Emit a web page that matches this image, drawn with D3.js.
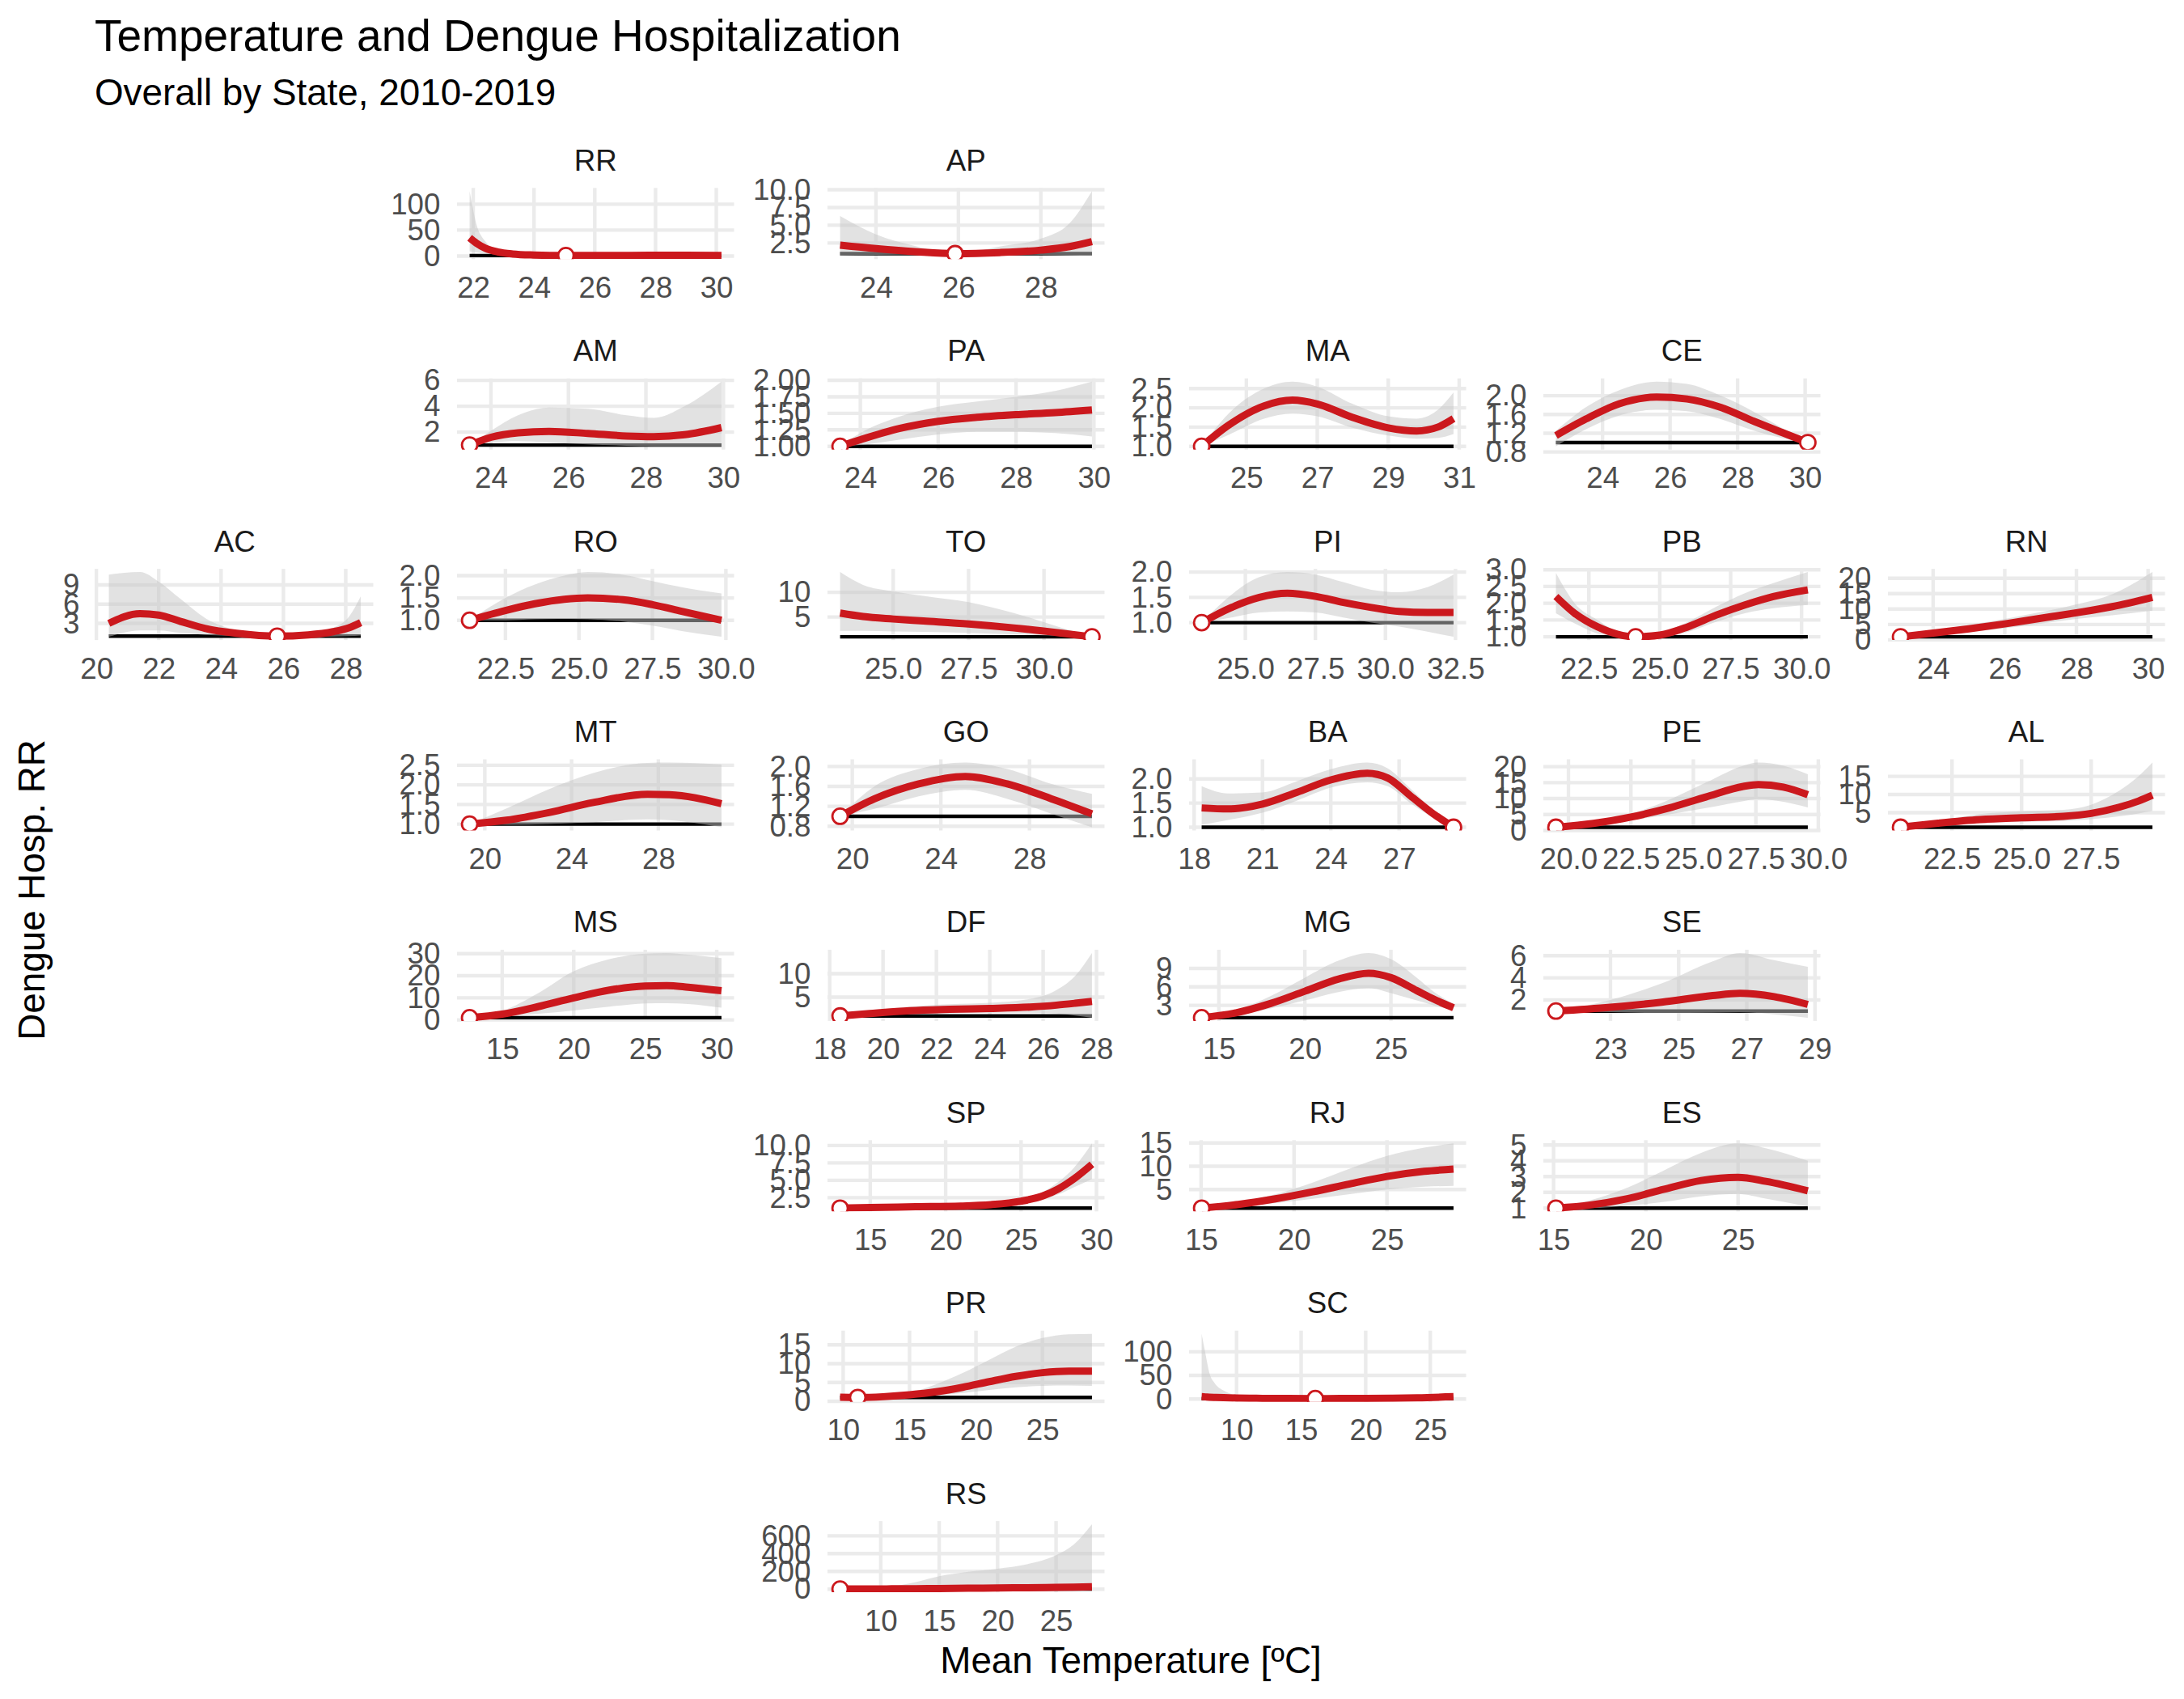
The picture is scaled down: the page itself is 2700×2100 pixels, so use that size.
<!DOCTYPE html>
<html><head><meta charset="utf-8">
<script src="https://cdn.jsdelivr.net/npm/d3@7"></script>
<style>
body{margin:0;background:#fff}
svg{display:block}
text{font-family:"Liberation Sans",Arial,Helvetica,sans-serif}
</style>
</head><body>
<svg id="chart" width="2700" height="2100"></svg>
<script>
// ---------------- DATA ----------------
const states = ["RR","AP","AM","PA","MA","CE","AC","RO","TO","PI","PB","RN","MT","GO","BA","PE","AL","MS","DF","MG","SE","SP","RJ","ES","PR","SC","RS"];
// geofacet grid cell (row, column) of every state
const gridRow = [1,1,2,2,2,2,3,3,3,3,3,3,4,4,4,4,4,5,5,5,5,6,6,6,7,7,8];
const gridCol = [2,3,2,3,4,5,1,2,3,4,5,6,2,3,4,5,6,2,3,4,5,3,4,5,3,4,3];
// minimum-morbidity temperature (reference point, RR = 1)
const mmt = [25.05,25.92,23.45,23.48,23.74,30.08,25.8,21.28,31.59,23.44,24.15,23.09,19.3,19.45,29.39,19.5,20.65,12.72,18.39,14.0,21.4,13.0,15.03,15.13,11.1,16.1,6.52];

const temps = [
 [21.88,22.1,22.4,22.8,23.3,24.0,25.05,26.5,28.0,29.0,30.17],
 [23.13,24.0,25.0,25.92,27.0,28.0,28.7,29.24],
 [23.45,24.0,24.7,25.5,26.5,27.5,28.2,29.0,29.95],
 [23.48,24.0,25.0,26.0,27.0,28.0,29.0,29.95],
 [23.74,24.5,25.5,26.3,27.0,28.0,29.0,29.8,30.4,30.84],
 [22.62,23.5,24.5,25.6,26.5,27.5,28.5,29.3,30.08],
 [20.4,21.4,22.0,22.7,23.5,24.5,25.8,26.8,27.6,28.1,28.48],
 [21.28,22.5,23.5,24.5,25.3,26.5,27.5,28.5,29.85],
 [23.24,24.0,25.0,26.0,27.5,29.0,30.5,31.59],
 [23.44,24.5,25.5,26.5,27.5,28.5,29.5,30.5,31.5,32.43],
 [21.34,22.0,22.8,23.5,24.15,25.0,26.0,27.0,28.0,29.0,30.22],
 [23.09,24.0,25.0,26.0,27.0,28.0,29.0,30.12],
 [19.3,21.0,23.0,25.0,27.5,28.5,30.91],
 [19.45,21.0,23.0,25.1,27.0,29.0,30.82],
 [18.33,19.5,21.0,22.5,24.0,25.6,26.5,27.5,28.5,29.39],
 [19.5,21.0,22.5,24.0,25.5,27.0,27.6,28.6,29.58],
 [20.65,22.0,23.5,25.0,26.5,27.5,28.5,29.2,29.7],
 [12.72,15.0,17.5,20.0,22.5,25.0,26.5,28.0,30.33],
 [18.39,19.5,21.0,22.5,24.0,25.5,26.5,27.2,27.83],
 [14.0,16.0,18.0,20.0,22.0,23.7,25.0,26.5,27.5,28.64],
 [21.4,23.0,24.5,26.0,26.8,27.8,28.79],
 [13.0,15.0,18.0,21.0,23.0,25.0,26.5,27.5,28.5,29.7],
 [15.03,17.0,19.0,21.0,23.0,25.0,27.0,28.58],
 [15.13,17.0,19.0,21.0,23.0,25.0,26.5,28.78],
 [9.77,11.1,13.0,15.0,17.0,19.0,21.0,23.0,25.0,27.0,28.73],
 [7.3,7.6,7.9,8.3,9.0,10.0,11.0,12.0,14.0,16.1,18.0,20.0,22.0,24.0,26.8],
 [6.52,9.0,10.5,11.5,13.0,15.0,17.5,20.0,22.5,25.0,26.5,28.07]
];
const rrFit = [
 [35,25,15,8,4,2,1.0,1.1,1.6,1.5,1.0],
 [2.2,1.7,1.25,1.0,1.15,1.5,2.0,2.7],
 [1.0,1.6,1.95,2.05,1.9,1.7,1.65,1.8,2.35],
 [1.0,1.1,1.27,1.38,1.44,1.48,1.51,1.55],
 [1.0,1.55,2.05,2.2,2.1,1.75,1.48,1.4,1.5,1.72],
 [1.15,1.5,1.83,1.97,1.93,1.75,1.45,1.22,1.0],
 [3.0,4.5,4.3,3.3,2.2,1.45,1.0,1.2,1.7,2.3,3.1],
 [1.0,1.22,1.37,1.47,1.5,1.46,1.35,1.2,1.0],
 [5.8,5.1,4.6,4.2,3.6,2.8,1.8,1.0],
 [1.0,1.3,1.5,1.58,1.52,1.4,1.3,1.22,1.2,1.2],
 [2.2,1.7,1.3,1.08,1.0,1.05,1.3,1.65,1.95,2.2,2.4],
 [1.0,2.2,3.6,5.2,7.0,8.8,10.8,13.8],
 [1.0,1.1,1.3,1.55,1.76,1.75,1.52],
 [1.0,1.35,1.65,1.8,1.65,1.35,1.05],
 [1.4,1.38,1.48,1.72,1.98,2.12,2.02,1.65,1.28,1.0],
 [1.0,2.2,4.2,7.0,10.5,13.8,14.4,13.6,11.2],
 [1.0,2.1,3.1,3.6,4.0,4.8,6.5,8.2,9.8],
 [1.0,2.6,6.0,10.0,13.5,15.3,15.5,14.8,13.2],
 [1.0,1.5,2.1,2.4,2.6,2.9,3.3,3.7,4.1],
 [1.0,1.8,3.3,5.3,7.3,8.2,7.5,5.4,4.0,2.6],
 [1.0,1.35,1.8,2.4,2.6,2.3,1.6],
 [1.0,1.1,1.2,1.3,1.5,2.0,2.8,3.8,5.2,7.3],
 [1.0,1.8,3.0,4.5,6.2,7.8,8.9,9.4],
 [1.0,1.2,1.6,2.2,2.75,2.95,2.7,2.1],
 [1.05,1.0,1.2,1.7,2.5,3.7,5.2,6.6,7.6,8.0,8.0],
 [5.0,4.5,4.0,3.5,2.8,2.2,1.8,1.5,1.1,1.0,1.1,1.3,1.7,2.5,5.0],
 [1.0,2.0,3.0,3.5,5.0,7.0,10.0,13.0,16.0,20.0,23.0,28.0]
];
const rrLow = [
 [9,7,5,3,1.8,1.2,1.0,0.7,0.7,0.6,0.3],
 [0.75,0.82,0.92,1.0,0.9,0.82,0.75,0.68],
 [1.0,1.2,1.3,1.2,1.05,0.95,0.9,0.9,0.9],
 [1.0,1.02,1.1,1.18,1.22,1.22,1.2,1.15],
 [1.0,1.3,1.72,1.85,1.78,1.48,1.28,1.2,1.22,1.32],
 [0.92,1.28,1.58,1.7,1.67,1.5,1.25,1.1,1.0],
 [0.9,1.9,1.9,1.5,1.2,1.05,1.0,0.95,0.95,1.0,1.1],
 [1.0,1.0,1.02,1.03,1.02,0.97,0.88,0.76,0.63],
 [2.2,2.2,2.1,2.0,1.8,1.5,1.2,1.0],
 [1.0,1.1,1.2,1.22,1.2,1.1,1.0,0.92,0.82,0.72],
 [1.7,1.4,1.1,1.02,1.0,1.0,1.15,1.45,1.7,1.85,1.95],
 [1.0,1.7,2.6,3.8,5.3,6.8,8.0,9.5],
 [1.0,0.98,1.0,1.05,1.12,1.1,0.92],
 [1.0,1.15,1.4,1.53,1.35,1.05,0.78],
 [1.05,1.15,1.3,1.55,1.82,1.93,1.85,1.5,1.2,1.0],
 [1.0,1.8,3.2,5.0,7.0,9.2,9.8,9.0,7.2],
 [1.0,1.6,2.2,2.5,2.7,3.2,4.0,4.8,5.5],
 [1.0,1.6,2.8,4.3,6.0,7.5,7.6,7.2,5.5],
 [1.0,1.1,1.4,1.6,1.7,1.7,1.5,1.1,0.63],
 [1.0,1.5,2.5,3.8,5.2,5.8,5.0,3.8,3.0,2.2],
 [1.0,0.9,0.82,0.85,0.88,0.7,0.4],
 [1.0,1.05,1.1,1.15,1.3,1.7,2.3,3.0,4.0,5.2],
 [1.0,1.4,2.1,3.0,4.0,5.0,5.6,5.8],
 [1.0,1.0,1.15,1.4,1.75,1.9,1.6,1.1],
 [0.7,1.0,1.05,1.25,1.6,2.2,3.0,3.7,4.1,4.2,4.1],
 [1.2,1.2,1.2,1.15,1.1,1.05,1.0,1.0,1.0,1.0,0.95,0.95,1.0,1.2,2.5],
 [1.0,1.0,1.0,1.0,1.1,1.2,1.5,2.0,2.3,2.6,2.9,3.2]
];
const rrHigh = [
 [125,62,28,12,5.5,2.8,1.0,1.8,3.2,3.5,4.0],
 [6.3,3.7,2.0,1.0,2.0,3.1,5.3,9.8],
 [1.0,2.1,3.3,3.9,3.8,3.3,3.1,4.0,5.9],
 [1.0,1.2,1.45,1.6,1.68,1.75,1.84,1.98],
 [1.0,1.85,2.5,2.68,2.55,2.1,1.78,1.72,1.95,2.4],
 [1.25,1.75,2.12,2.3,2.25,2.0,1.65,1.32,1.0],
 [10.6,11.0,9.5,6.8,3.8,1.9,1.0,1.4,2.3,4.0,7.2],
 [1.0,1.5,1.8,2.0,2.08,2.02,1.88,1.74,1.6],
 [14.1,11.5,10.2,9.3,8.0,5.8,3.0,1.0],
 [1.0,1.55,1.9,2.0,1.95,1.8,1.65,1.6,1.7,1.95],
 [2.9,2.0,1.5,1.15,1.0,1.1,1.45,1.9,2.3,2.6,2.93],
 [1.0,2.8,4.8,6.8,9.0,11.5,14.8,22.0],
 [1.0,1.4,1.9,2.3,2.56,2.57,2.52],
 [1.0,1.6,1.95,2.08,1.95,1.65,1.45],
 [1.85,1.7,1.72,1.95,2.2,2.34,2.22,1.8,1.35,1.0],
 [1.0,2.6,5.2,9.5,15.0,20.3,21.3,20.3,17.6],
 [1.0,2.8,4.6,5.4,5.8,7.2,11.0,15.0,18.8],
 [1.0,4.0,12.0,22.0,27.5,30.0,30.3,29.5,28.0],
 [1.0,2.0,3.0,3.5,3.8,4.6,6.5,9.5,14.4],
 [1.0,2.2,4.5,7.5,10.3,11.5,10.5,7.5,5.2,3.2],
 [1.0,2.0,3.5,5.5,6.25,5.6,5.0],
 [1.0,1.15,1.3,1.45,1.7,2.3,3.4,4.8,6.8,10.3],
 [1.0,2.2,4.0,6.5,9.5,12.2,14.0,14.9],
 [1.0,1.5,2.3,3.4,4.5,5.1,4.8,4.0],
 [1.2,1.0,1.4,2.3,4.5,7.5,11.0,14.5,16.8,17.8,17.9],
 [138,95,55,34,18,8,4,2.5,1.4,1.0,1.3,2.0,3.0,4.5,9.0],
 [1.0,8,22,40,80,145,195,230,280,382,500,730]
];
const xTickLabels = [
 ["22","24","26","28","30"],["24","26","28"],["24","26","28","30"],["24","26","28","30"],
 ["25","27","29","31"],["24","26","28","30"],["20","22","24","26","28"],
 ["22.5","25.0","27.5","30.0"],["25.0","27.5","30.0"],["25.0","27.5","30.0","32.5"],
 ["22.5","25.0","27.5","30.0"],["24","26","28","30"],["20","24","28"],["20","24","28"],
 ["18","21","24","27"],["20.0","22.5","25.0","27.5","30.0"],["22.5","25.0","27.5"],
 ["15","20","25","30"],["18","20","22","24","26","28"],["15","20","25"],["23","25","27","29"],
 ["15","20","25","30"],["15","20","25"],["15","20","25"],["10","15","20","25"],
 ["10","15","20","25"],["10","15","20","25"]
];
const yTickLabels = [
 ["0","50","100"],["2.5","5.0","7.5","10.0"],["2","4","6"],["1.00","1.25","1.50","1.75","2.00"],
 ["1.0","1.5","2.0","2.5"],["0.8","1.2","1.6","2.0"],["3","6","9"],["1.0","1.5","2.0"],
 ["5","10"],["1.0","1.5","2.0"],["1.0","1.5","2.0","2.5","3.0"],["0","5","10","15","20"],
 ["1.0","1.5","2.0","2.5"],["0.8","1.2","1.6","2.0"],["1.0","1.5","2.0"],["0","5","10","15","20"],
 ["5","10","15"],["0","10","20","30"],["5","10"],["3","6","9"],["2","4","6"],
 ["2.5","5.0","7.5","10.0"],["5","10","15"],["1","2","3","4","5"],["0","5","10","15"],
 ["0","50","100"],["0","200","400","600"]
];
const titleText = "Temperature and Dengue Hospitalization";
const subtitleText = "Overall by State, 2010-2019";
const xTitle = "Mean Temperature [ºC]";
const yTitle = "Dengue Hosp. RR";

// ---------------- LAYOUT / STYLE ----------------
const colLeft = [119, 565, 1023, 1470, 1908, 2334];
const panelW = 342.5, panelH = 88, rowTop0 = 232.3, rowStep = 235.4;
const RED = "#CB181D", GRID = "#ebebeb";
const tickFont = 36.7, gridW = 4.4;

const svg = d3.select("#chart");
svg.append("rect").attr("width",2700).attr("height",2100).attr("fill","#fff");
const defs = svg.append("defs");

svg.append("text").attr("x",117).attr("y",63).attr("font-size",55).attr("fill","#000").text(titleText);
svg.append("text").attr("x",117).attr("y",130).attr("font-size",45.8).attr("fill","#000").text(subtitleText);

function expand(ext){ const r = ext[1]-ext[0]; return [ext[0]-0.05*r, ext[1]+0.05*r]; }

states.forEach((st, i) => {
  const x0 = colLeft[gridCol[i]-1];
  const y0 = rowTop0 + (gridRow[i]-1)*rowStep;
  const rows = temps[i].map((t, k) => ({t, rr: rrFit[i][k], lo: rrLow[i][k], hi: rrHigh[i][k]}));
  const xd = expand(d3.extent(temps[i]));
  const yd = expand([d3.min([...rrLow[i], ...rrFit[i], 1]), d3.max([...rrHigh[i], ...rrFit[i], 1])]);
  const x = d3.scaleLinear().domain(xd).range([0, panelW]);
  const y = d3.scaleLinear().domain(yd).range([panelH, 0]);
  const xt = xTickLabels[i].map(Number), yt = yTickLabels[i].map(Number);

  const g = svg.append("g").attr("transform", `translate(${x0},${y0})`);
  // grid
  g.selectAll(".gy").data(yt).join("line")
    .attr("x1",0).attr("x2",panelW).attr("y1",d=>y(d)).attr("y2",d=>y(d))
    .attr("stroke",GRID).attr("stroke-width",gridW);
  g.selectAll(".gx").data(xt).join("line")
    .attr("y1",0).attr("y2",panelH).attr("x1",d=>x(d)).attr("x2",d=>x(d))
    .attr("stroke",GRID).attr("stroke-width",gridW);

  // axes
  const ay = g.append("g").call(d3.axisLeft(y).tickValues(yt).tickFormat((d,k)=>yTickLabels[i][k]).tickSize(0).tickPadding(20.6));
  const ax = g.append("g").attr("transform",`translate(0,${panelH})`)
    .call(d3.axisBottom(x).tickValues(xt).tickFormat((d,k)=>xTickLabels[i][k]).tickSize(0).tickPadding(21.5));
  [ay, ax].forEach(a => {
    a.select(".domain").remove();
    a.attr("font-family",null).attr("font-size",null);
    a.selectAll("text").attr("font-size",tickFont).attr("fill","#4d4d4d");
  });

  // strip
  g.append("text").attr("x",panelW/2).attr("y",-21.5).attr("text-anchor","middle")
    .attr("font-size",tickFont).attr("fill","#1a1a1a").text(st);

  // clipped data layer
  defs.append("clipPath").attr("id","clip"+i).append("rect")
    .attr("x",0).attr("y",0).attr("width",panelW).attr("height",panelH);
  const c = g.append("g").attr("clip-path",`url(#clip${i})`);
  const ext = d3.extent(temps[i]);
  c.append("line").attr("x1",x(ext[0])).attr("x2",x(ext[1])).attr("y1",y(1)).attr("y2",y(1))
    .attr("stroke","#000").attr("stroke-width",4.4);
  c.append("path").datum(rows)
    .attr("d", d3.area().x(d=>x(d.t)).y0(d=>y(d.lo)).y1(d=>y(d.hi)).curve(d3.curveMonotoneX))
    .attr("fill","#c6c6c6").attr("fill-opacity",0.5);
  c.append("path").datum(rows)
    .attr("d", d3.line().x(d=>x(d.t)).y(d=>y(d.rr)).curve(d3.curveMonotoneX))
    .attr("fill","none").attr("stroke",RED).attr("stroke-width",9);
  c.append("circle").attr("cx",x(mmt[i])).attr("cy",y(1)).attr("r",9.5)
    .attr("fill","#fff").attr("stroke",RED).attr("stroke-width",2.8);
});

svg.append("text").attr("x",1398).attr("y",2068).attr("text-anchor","middle")
  .attr("font-size",45.8).attr("fill","#000").text(xTitle);
svg.append("text").attr("transform","translate(55,1100) rotate(-90)").attr("text-anchor","middle")
  .attr("font-size",45.8).attr("fill","#000").text(yTitle);
</script>
</body></html>
